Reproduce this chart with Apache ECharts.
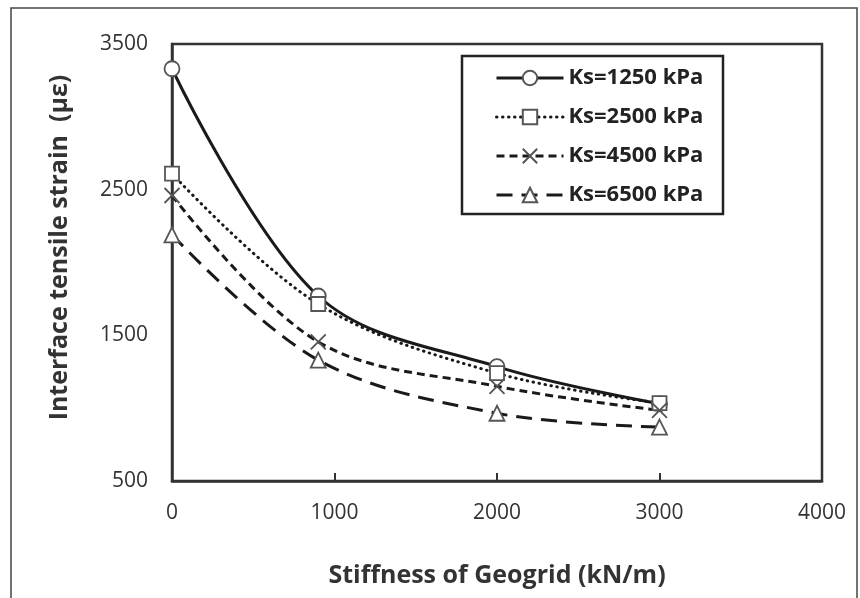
<!DOCTYPE html>
<html>
<head>
<meta charset="utf-8">
<script src="https://cdn.jsdelivr.net/npm/echarts@6/dist/echarts.min.js"></script>
<style>
html,body{margin:0;padding:0;background:#fff;}
#chart{width:860px;height:598px;}
</style>
</head>
<body>
<div id="chart"></div>
<script>
// ---- data ----
const stiffness = [0, 900, 2000, 3000];
const ks1250 = [3330, 1770, 1285, 1030];
const ks2500 = [2610, 1715, 1240, 1035];
const ks4500 = [2460, 1455, 1150, 985];
const ks6500 = [2190, 1330, 965, 870];
const seriesNames = ['Ks=1250 kPa', 'Ks=2500 kPa', 'Ks=4500 kPa', 'Ks=6500 kPa'];
const yTicks = [500, 1500, 2500, 3500];
const xTicks = [0, 1000, 2000, 3000, 4000];

const pairs = v => stiffness.map((x, i) => [x, v[i]]);
const FONT = 'Open Sans';
const LINE = '#1a1a1a';
const MARK = '#555';
const xPath = 'path://M0,0 L10,10 M10,0 L0,10';

function mk(name, vals, symbol, dash, size, cap) {
  return {
    name: name, type: 'line', data: pairs(vals), smooth: 0.35,
    symbol: symbol, symbolSize: size, showSymbol: true,
    lineStyle: { color: LINE, width: 3, type: dash, cap: cap || 'butt' },
    itemStyle: { color: '#fff', borderColor: MARK, borderWidth: 1.8 },
    emphasis: { disabled: true }
  };
}

const chart = echarts.init(document.getElementById('chart'), null, { renderer: 'canvas' });
chart.setOption({
  animation: false,
  backgroundColor: '#fff',
  textStyle: { fontFamily: FONT },
  grid: { left: 172, top: 44, right: 38, bottom: 117, show: true, borderColor: '#333', borderWidth: 2.5, backgroundColor: 'transparent' },
  legend: {
    data: seriesNames,
    orient: 'vertical',
    left: 490, top: 62,
    z: 20,
    itemWidth: 67, itemHeight: 18, itemGap: 17,
    lineStyle: { width: 3 },
    textStyle: { fontFamily: FONT, fontSize: 22, fontWeight: 'bold', color: '#222' },
    selectedMode: false
  },
  xAxis: {
    type: 'value', min: 0, max: 4000, interval: 1000,
    name: 'Stiffness of Geogrid (kN/m)', nameLocation: 'middle', nameGap: 82,
    nameTextStyle: { fontFamily: FONT, fontSize: 25, fontWeight: 'bold', color: '#333' },
    axisLine: { show: true, lineStyle: { color: '#333', width: 2.5 } },
    axisTick: { show: true, inside: true, length: 8, lineStyle: { color: '#333', width: 2 } },
    axisLabel: { fontFamily: FONT, fontSize: 21, color: '#333', margin: 22, formatter: v => xTicks.includes(v) ? String(v) : '' },
    splitLine: { show: false }
  },
  yAxis: {
    type: 'value', min: 500, max: 3500, interval: 1000,
    name: 'Interface tensile strain  (με)', nameLocation: 'middle', nameGap: 100, nameRotate: 90,
    nameTextStyle: { fontFamily: FONT, fontSize: 25, fontWeight: 'bold', color: '#333', padding: [0, 0, 0, 30] },
    axisLine: { show: true, lineStyle: { color: '#333', width: 2.5 } },
    axisTick: { show: false },
    axisLabel: { fontFamily: FONT, fontSize: 21, color: '#333', margin: 24, formatter: v => yTicks.includes(v) ? String(v) : '' },
    splitLine: { show: false }
  },
  graphic: [
    { type: 'rect', shape: { x: 11, y: 8, width: 846, height: 620 }, style: { fill: 'none', stroke: '#444', lineWidth: 1.5 }, silent: true, z: 0 },
    { type: 'rect', shape: { x: 462, y: 56, width: 261, height: 158 }, style: { fill: '#fff', stroke: '#222', lineWidth: 2.5 }, silent: true, z: 3 }
  ],
  series: [
    mk(seriesNames[0], ks1250, 'circle', 'solid', 15),
    mk(seriesNames[1], ks2500, 'rect', [0.5, 5.5], 14, 'round'),
    mk(seriesNames[2], ks4500, xPath, [8, 5], 15),
    mk(seriesNames[3], ks6500, 'triangle', [16, 9], 15)
  ]
});
</script>
</body>
</html>
